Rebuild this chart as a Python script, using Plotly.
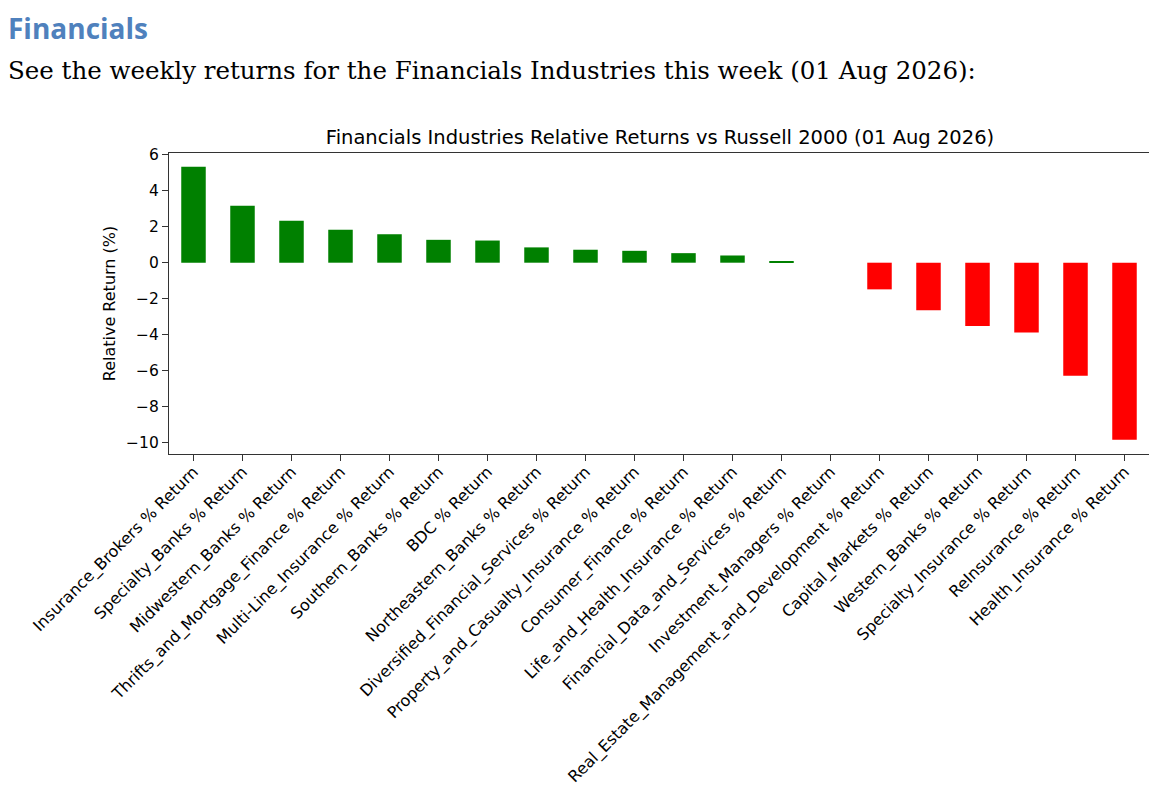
import plotly.graph_objects as go

# Rendimiento relativo semanal vs Russell 2000 (%)
industrias = [
    'Insurance_Brokers % Return',
    'Specialty_Banks % Return',
    'Midwestern_Banks % Return',
    'Thrifts_and_Mortgage_Finance % Return',
    'Multi-Line_Insurance % Return',
    'Southern_Banks % Return',
    'BDC % Return',
    'Northeastern_Banks % Return',
    'Diversified_Financial_Services % Return',
    'Property_and_Casualty_Insurance % Return',
    'Consumer_Finance % Return',
    'Life_and_Health_Insurance % Return',
    'Financial_Data_and_Services % Return',
    'Investment_Managers % Return',
    'Real_Estate_Management_and_Development % Return',
    'Capital_Markets % Return',
    'Western_Banks % Return',
    'Specialty_Insurance % Return',
    'ReInsurance % Return',
    'Health_Insurance % Return',
]
retornos = [5.33, 3.16, 2.33, 1.83, 1.58, 1.27, 1.23, 0.85, 0.72, 0.66,
            0.53, 0.40, 0.07, 0.0, -1.48, -2.64, -3.51, -3.88, -6.28, -9.83]
y_ticks = [-10, -8, -6, -4, -2, 0, 2, 4, 6]

colores = ['green' if r >= 0 else 'red' for r in retornos]

# la página tiene 8px de margen en el body
OFF = 8
W, H = 1157 - 2 * OFF, 796 - 2 * OFF
L, R, T, B = 169 - OFF, 0, 153 - OFF, H - (454 - OFF)


def px_x(p):
    return (p - OFF - L) / (W - L - R)


def px_y(p):
    return 1 - (p - OFF - T) / (H - T - B)


fig = go.Figure()
fig.add_trace(go.Bar(
    x=industrias,
    y=retornos,
    width=0.5,
    marker=dict(color=colores, line=dict(width=0)),
    showlegend=False,
))

fig.update_layout(
    width=W,
    height=H,
    margin=dict(l=L, r=R, t=T, b=B, autoexpand=False),
    paper_bgcolor='white',
    plot_bgcolor='white',
    font=dict(family='DejaVu Sans', size=15, color='black'),
    title=dict(
        text='Financials Industries Relative Returns vs Russell 2000 (01 Aug 2026)',
        x=px_x(660), xref='paper', xanchor='center',
        y=1 - (137 - OFF) / H, yref='container', yanchor='middle',
        font=dict(family='DejaVu Sans', size=19.5, color='black'),
    ),
)

fig.update_xaxes(
    type='category',
    range=[-0.5, len(industrias) - 0.5],
    tickangle=-45,
    ticks='outside', ticklen=6, tickcolor='#333',
    ticklabelstandoff=-5,
    showline=True, linecolor='#333', linewidth=1.2, mirror=True,
    showgrid=False, zeroline=False,
    tickfont=dict(size=16),
)

fig.update_yaxes(
    range=[-10.62, 6.09],
    tickvals=y_ticks,
    ticks='outside', ticklen=6, tickcolor='#333',
    showline=True, linecolor='#333', linewidth=1.2, mirror=True,
    showgrid=False, zeroline=False,
    tickfont=dict(size=15.5),
    title=dict(text='Relative Return (%)', font=dict(size=16), standoff=6),
)

# Encabezado del documento
fig.add_annotation(
    text='<b>Financials</b>', xref='paper', yref='paper',
    x=px_x(7), y=px_y(OFF), xanchor='left', yanchor='top', showarrow=False,
    borderpad=0,
    font=dict(family='Open Sans', size=28, color='#4F81BD'),
)
fig.add_annotation(
    text='See the weekly returns for the Financials Industries this week (01 Aug 2026):',
    xref='paper', yref='paper',
    x=px_x(6), y=px_y(70), xanchor='left', yanchor='middle', showarrow=False,
    font=dict(family='DejaVu Serif', size=24.5, color='black'),
)

fig.write_html('out.html')
